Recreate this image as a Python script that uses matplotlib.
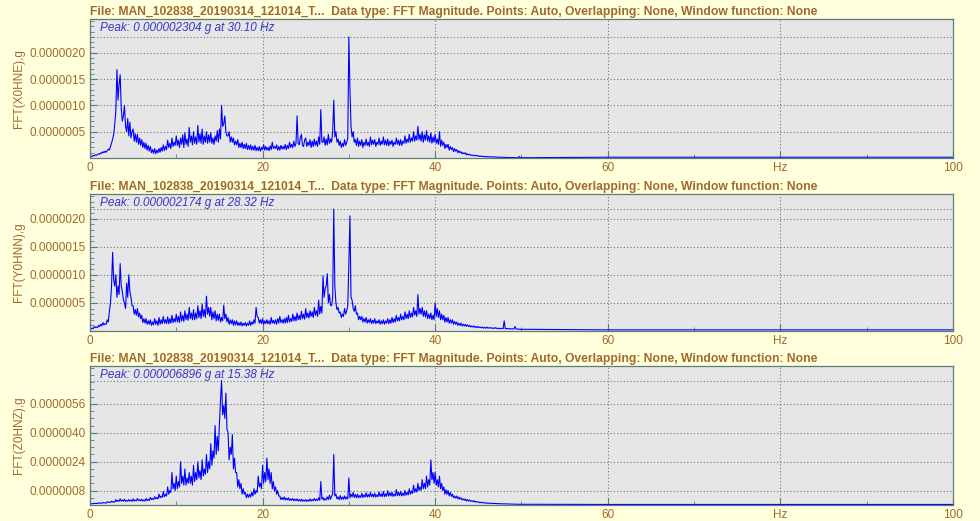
import numpy as np
import matplotlib
matplotlib.use("Agg")
import matplotlib.pyplot as plt
from matplotlib.ticker import MultipleLocator, FormatStrFormatter, FixedLocator

# Chart data (amplitudes, in units of 1e-7 g)
# one value every 0.125 Hz from 0 to 50 Hz (one row per Hz), then a flat tail
SPEC_STEP_HZ = 0.125
TAIL_HZ = [60, 70, 80, 90, 100]

x0hne = [
    0.2, 0.3, 0.3, 0.5, 0.4, 0.6, 0.5, 0.7,
    0.8, 0.7, 1.0, 0.9, 1.2, 1.0, 1.3, 1.1,
    1.4, 1.7, 1.5, 2.2, 2.8, 3.6, 4.5, 6.5,
    9.0, 16.8, 11.0, 14.0, 15.8, 9.5, 7.0, 8.0,
    10.0, 6.0, 5.0, 7.5, 4.2, 6.8, 3.8, 5.0,
    5.5, 3.2, 4.6, 3.0, 4.5, 2.6, 3.8, 2.4,
    3.5, 2.0, 3.0, 1.8, 2.8, 1.5, 2.4, 1.3,
    2.2, 1.0, 1.6, 0.9, 1.8, 0.8, 1.5, 1.0,
    1.8, 1.1, 2.0, 1.3, 2.5, 1.4, 2.2, 1.6,
    3.4, 2.0, 2.8, 1.8, 3.8, 2.2, 3.0, 2.4,
    4.2, 2.4, 3.4, 2.0, 3.8, 2.6, 4.4, 2.0,
    4.8, 2.6, 3.6, 2.2, 5.8, 3.0, 4.2, 2.5,
    5.0, 2.8, 4.0, 2.6, 6.2, 3.0, 4.6, 2.8,
    5.5, 2.6, 4.2, 3.0, 5.0, 2.8, 4.4, 3.0,
    4.8, 2.8, 3.8, 2.6, 4.2, 3.2, 5.2, 3.0,
    5.5, 3.6, 10.0, 6.0, 6.5, 8.0, 5.0, 4.2,
    4.2, 5.0, 3.0, 4.0, 3.0, 3.8, 2.5, 3.2,
    2.5, 3.5, 2.0, 2.8, 2.0, 3.0, 1.8, 2.6,
    1.8, 2.8, 1.6, 2.4, 1.6, 2.5, 1.5, 2.2,
    1.5, 2.4, 1.4, 2.0, 1.4, 2.2, 1.3, 2.0,
    1.6, 2.5, 1.5, 2.2, 1.5, 2.0, 1.4, 2.3,
    1.6, 3.0, 1.8, 2.2, 1.8, 2.5, 1.5, 2.2,
    1.5, 2.4, 1.7, 2.2, 1.7, 2.6, 1.6, 2.4,
    1.8, 3.0, 2.0, 2.6, 2.0, 3.2, 2.2, 2.8,
    8.0, 2.8, 2.5, 3.8, 4.5, 2.4, 2.2, 3.4,
    3.8, 2.2, 3.0, 2.4, 3.5, 2.0, 3.2, 2.2,
    3.6, 2.4, 3.2, 2.2, 4.0, 2.6, 9.2, 3.0,
    3.0, 4.0, 2.4, 3.6, 2.5, 4.5, 2.8, 3.6,
    3.0, 5.0, 11.0, 4.0, 5.0, 3.0, 3.6, 2.4,
    3.2, 2.0, 2.8, 2.2, 3.5, 2.4, 3.0, 3.8,
    23.0, 13.0, 6.0, 4.0, 5.0, 3.0, 3.5, 2.4,
    3.8, 2.2, 3.2, 2.4, 3.5, 2.0, 3.0, 2.4,
    3.6, 2.4, 3.0, 2.2, 4.0, 2.5, 3.4, 2.6,
    3.5, 2.2, 3.0, 2.6, 3.8, 2.4, 3.2, 2.6,
    4.0, 2.5, 3.4, 2.4, 3.6, 2.3, 3.2, 2.6,
    3.4, 2.2, 3.0, 2.6, 3.8, 2.6, 3.4, 2.4,
    3.5, 2.4, 3.2, 2.8, 4.2, 2.8, 3.6, 3.0,
    4.5, 3.0, 3.8, 3.2, 5.0, 3.2, 4.2, 3.4,
    6.0, 3.5, 4.5, 3.2, 5.0, 3.0, 4.4, 3.4,
    5.2, 3.2, 4.2, 3.0, 4.8, 2.8, 4.0, 3.0,
    4.5, 2.8, 3.6, 2.6, 5.0, 2.2, 3.4, 2.4,
    3.0, 1.8, 2.6, 2.0, 2.6, 1.5, 2.2, 1.6,
    2.0, 1.2, 1.8, 1.3, 1.6, 1.0, 1.4, 1.0,
    1.2, 0.8, 1.0, 0.8, 1.0, 0.6, 0.8, 0.6,
    0.7, 0.5, 0.6, 0.45, 0.55, 0.4, 0.5, 0.4,
    0.45, 0.3, 0.4, 0.3, 0.35, 0.25, 0.3, 0.22,
    0.3, 0.2, 0.25, 0.2, 0.25, 0.18, 0.22, 0.16,
    0.2, 0.15, 0.18, 0.14, 0.15, 0.12, 0.14, 0.12,
    0.12, 0.1, 0.11, 0.1, 0.1, 0.08, 0.1, 0.08,
    0.08, 0.07, 0.08, 0.06, 0.07, 0.06, 0.3, 0.06,
    0.06,
]
x0hne_tail = [0.15, 0.15, 0.15, 0.15, 0.15]

y0hnn = [
    0.3, 0.4, 0.5, 0.4, 0.8, 0.6, 0.7, 0.6,
    1.0, 0.8, 1.2, 0.9, 1.5, 1.1, 1.3, 1.2,
    2.0, 1.6, 3.5, 5.0, 8.0, 14.0, 9.0, 8.0,
    10.0, 6.0, 8.0, 6.5, 12.0, 8.0, 7.0, 5.5,
    5.0, 4.0, 8.5, 6.0, 10.0, 7.0, 6.0, 4.5,
    4.5, 3.0, 3.8, 2.8, 4.0, 2.5, 3.2, 2.2,
    2.8, 1.5, 2.2, 1.4, 2.2, 1.2, 1.8, 1.2,
    2.0, 1.0, 1.6, 1.1, 2.2, 1.2, 1.8, 1.0,
    2.4, 1.2, 2.0, 1.3, 2.6, 1.4, 2.0, 1.3,
    2.5, 1.3, 2.2, 1.4, 2.8, 1.5, 2.2, 1.6,
    3.0, 1.6, 2.6, 1.5, 3.4, 1.8, 2.8, 1.7,
    3.6, 2.0, 3.0, 1.9, 4.2, 2.2, 3.2, 2.0,
    3.8, 2.0, 3.2, 2.2, 4.5, 2.4, 3.6, 2.2,
    4.8, 2.6, 3.8, 2.4, 6.2, 3.0, 4.2, 2.6,
    4.2, 2.0, 3.4, 2.2, 3.6, 1.8, 3.0, 1.9,
    3.0, 1.6, 2.4, 1.8, 4.6, 2.2, 3.0, 1.6,
    2.4, 1.2, 2.0, 1.3, 2.0, 1.0, 1.8, 1.1,
    1.8, 1.0, 1.5, 1.0, 1.6, 0.9, 1.4, 1.0,
    1.5, 0.9, 1.4, 1.0, 1.8, 1.0, 1.6, 1.2,
    2.0, 1.4, 4.2, 2.6, 2.4, 1.4, 2.0, 1.3,
    2.2, 1.2, 1.8, 1.3, 2.0, 1.3, 1.8, 1.2,
    2.4, 1.4, 1.9, 1.3, 2.0, 1.2, 2.2, 1.4,
    2.6, 1.5, 2.0, 1.4, 2.2, 1.4, 2.4, 1.5,
    2.8, 1.6, 2.2, 1.7, 3.0, 1.8, 2.6, 1.8,
    3.2, 2.0, 2.8, 2.0, 3.5, 2.2, 3.0, 2.1,
    4.0, 2.4, 3.2, 2.3, 3.6, 2.6, 3.4, 2.4,
    4.2, 2.8, 3.6, 2.6, 5.5, 3.0, 4.4, 3.2,
    9.8, 6.0, 7.5, 8.0, 10.2, 5.0, 6.5, 4.6,
    4.5, 6.0, 21.7, 8.0, 5.0, 3.8, 4.2, 3.2,
    3.4, 2.4, 3.0, 2.6, 4.0, 3.0, 3.6, 4.5,
    12.0, 20.5, 6.0, 5.5, 4.0, 3.5, 4.5, 3.0,
    3.2, 2.0, 2.6, 2.0, 2.6, 1.6, 2.2, 1.6,
    2.4, 1.4, 2.0, 1.5, 2.2, 1.3, 1.9, 1.4,
    2.2, 1.3, 1.8, 1.4, 2.0, 1.2, 1.8, 1.3,
    2.0, 1.2, 1.8, 1.4, 2.2, 1.3, 2.0, 1.4,
    2.4, 1.5, 2.2, 1.6, 2.8, 1.8, 2.4, 1.8,
    3.0, 2.0, 2.6, 2.0, 3.4, 2.2, 3.0, 2.2,
    3.6, 2.4, 3.2, 2.5, 4.2, 2.8, 3.6, 2.6,
    6.5, 3.0, 4.0, 3.0, 4.2, 2.6, 3.6, 2.5,
    3.6, 2.2, 3.0, 2.2, 3.2, 2.0, 2.8, 2.0,
    5.0, 2.6, 4.0, 2.4, 3.6, 2.0, 3.0, 2.0,
    2.8, 1.6, 2.4, 1.6, 2.4, 1.4, 2.0, 1.4,
    2.0, 1.2, 1.7, 1.2, 1.6, 1.0, 1.4, 1.0,
    1.4, 0.9, 1.2, 0.9, 1.2, 0.8, 1.1, 0.8,
    1.0, 0.7, 0.9, 0.7, 0.9, 0.6, 0.8, 0.6,
    0.8, 0.6, 0.7, 0.55, 0.7, 0.5, 0.65, 0.5,
    0.7, 0.5, 0.6, 0.5, 0.6, 0.45, 0.55, 0.45,
    0.6, 0.45, 0.5, 0.4, 0.5, 0.4, 0.5, 0.4,
    1.8, 0.4, 0.45, 0.4, 0.45, 0.35, 0.4, 0.35,
    0.4, 0.35, 0.8, 0.35, 0.35, 0.3, 0.35, 0.3,
    0.3,
]
y0hnn_tail = [0.2, 0.2, 0.2, 0.2, 0.2]

z0hnz = [
    0.5, 0.6, 0.8, 0.7, 1.0, 0.8, 0.9, 0.8,
    1.2, 1.0, 1.1, 1.0, 1.4, 1.1, 1.2, 1.1,
    1.8, 1.4, 1.6, 1.4, 2.2, 1.6, 1.9, 1.6,
    3.0, 2.0, 2.6, 2.0, 3.4, 2.2, 2.8, 2.1,
    3.2, 2.0, 2.6, 2.1, 3.0, 2.2, 2.8, 2.0,
    3.4, 2.2, 2.8, 2.3, 3.6, 2.4, 3.0, 2.3,
    3.2, 2.2, 2.8, 2.2, 3.6, 2.4, 3.2, 2.5,
    4.2, 3.0, 3.6, 3.0, 4.6, 3.4, 4.2, 3.4,
    6.0, 4.0, 5.0, 4.2, 7.5, 4.5, 6.0, 5.0,
    10.0, 6.0, 8.0, 7.0, 18.0, 9.0, 12.0, 8.0,
    16.0, 9.0, 13.0, 10.0, 24.0, 12.0, 16.0, 11.0,
    20.0, 11.0, 15.0, 12.0, 18.0, 12.0, 16.0, 11.0,
    22.0, 13.0, 18.0, 14.0, 24.0, 15.0, 19.0, 14.0,
    25.0, 16.0, 20.0, 17.0, 28.0, 18.0, 24.0, 20.0,
    34.0, 22.0, 30.0, 26.0, 44.0, 28.0, 38.0, 30.0,
    45.0, 58.0, 69.0, 50.0, 55.0, 48.0, 62.0, 42.0,
    40.0, 25.0, 32.0, 28.0, 39.0, 20.0, 26.0, 18.0,
    18.0, 10.0, 14.0, 9.0, 12.0, 6.0, 9.0, 6.0,
    7.0, 4.0, 6.0, 4.2, 6.0, 4.5, 7.0, 5.0,
    9.0, 6.0, 8.0, 7.0, 16.0, 10.0, 12.0, 9.0,
    22.0, 12.0, 18.0, 13.0, 26.0, 14.0, 20.0, 12.0,
    18.0, 9.0, 13.0, 8.0, 10.0, 6.0, 8.0, 5.0,
    5.0, 3.0, 4.2, 3.0, 4.5, 2.8, 3.8, 2.8,
    4.0, 2.5, 3.4, 2.6, 3.6, 2.4, 3.2, 2.4,
    3.4, 2.2, 3.0, 2.2, 3.2, 2.0, 2.8, 2.1,
    3.0, 2.0, 2.8, 2.1, 3.4, 2.2, 3.0, 2.3,
    3.6, 2.4, 3.2, 2.5, 4.0, 2.6, 13.0, 3.2,
    4.2, 2.6, 3.6, 2.8, 4.5, 3.0, 5.5, 3.2,
    5.0, 6.0, 28.0, 5.0, 6.0, 3.4, 4.5, 3.0,
    5.2, 3.0, 4.4, 3.2, 5.0, 3.2, 4.4, 3.4,
    15.0, 4.0, 6.0, 4.5, 7.0, 4.2, 5.8, 4.0,
    6.0, 4.0, 5.2, 4.2, 6.5, 4.2, 5.6, 4.4,
    6.8, 4.4, 5.8, 4.5, 7.0, 4.6, 6.0, 4.4,
    6.5, 4.4, 5.6, 4.6, 7.2, 4.8, 6.2, 4.6,
    7.5, 4.6, 6.2, 4.8, 8.0, 5.0, 6.8, 5.0,
    7.0, 4.8, 6.0, 5.0, 8.5, 5.2, 7.0, 5.2,
    7.5, 5.0, 6.6, 5.2, 8.0, 5.4, 7.0, 5.6,
    9.0, 6.0, 7.8, 6.4, 11.0, 7.0, 9.0, 7.2,
    12.0, 8.0, 10.0, 8.2, 14.0, 9.0, 12.0, 9.0,
    16.0, 10.0, 14.0, 11.0, 25.0, 14.0, 18.0, 12.0,
    18.0, 11.0, 14.0, 10.0, 16.0, 9.0, 12.0, 8.0,
    10.0, 6.0, 8.5, 6.0, 8.0, 5.0, 7.0, 4.8,
    6.0, 4.0, 5.0, 3.8, 5.0, 3.4, 4.4, 3.2,
    4.0, 2.8, 3.4, 2.6, 3.4, 2.2, 3.0, 2.2,
    2.8, 2.0, 2.4, 1.9, 2.4, 1.6, 2.0, 1.6,
    1.8, 1.3, 1.6, 1.2, 1.5, 1.1, 1.3, 1.0,
    1.2, 0.9, 1.1, 0.9, 1.0, 0.8, 0.9, 0.8,
    0.9, 0.7, 0.8, 0.7, 0.8, 0.6, 0.7, 0.6,
    0.7, 0.6, 0.65, 0.55, 0.6, 0.5, 0.55, 0.5,
    0.5, 0.45, 0.5, 0.42, 0.45, 0.4, 0.42, 0.4,
    0.4,
]
z0hnz_tail = [0.3, 0.3, 0.3, 0.3, 0.3]

CHANNELS = ["X0HNE", "Y0HNN", "Z0HNZ"]
PEAK_G = [0.000002304, 0.000002174, 0.000006896]
PEAK_HZ = [30.10, 28.32, 15.38]
X_TICKS = [0, 20, 40, 60, 80, 100]
X_TICK_LABELS = ["0", "20", "40", "60", "Hz", "100"]
Y_TICKS = [
    [0.0000005, 0.0000010, 0.0000015, 0.0000020],
    [0.0000005, 0.0000010, 0.0000015, 0.0000020],
    [0.0000008, 0.0000024, 0.0000040, 0.0000056],
]

TITLE = ("File: MAN_102838_20190314_121014_T...  Data type: FFT Magnitude. "
         "Points: Auto, Overlapping: None, Window function: None")

# look
BG = "#FFFFDC"
PANEL = "#E6E6E6"
BROWN = "#A0692E"
EDGE = "#5E7B7B"
plt.rcParams['font.family'] = ['Liberation Sans', 'DejaVu Sans']


def spectrum(values, tail):
    hz = np.arange(len(values)) * SPEC_STEP_HZ
    hz = np.concatenate([hz, TAIL_HZ])
    g = np.array(list(values) + list(tail)) * 1e-7
    return hz, g


def draw_panel(ax, hz, g, name, peak_g, peak_hz, yticks, ymax, minor):
    ax.set_facecolor(PANEL)
    ax.plot(hz, g, color="#0000FF", lw=0.8)
    ax.set_xlim(0, 100)
    ax.set_ylim(0, ymax)

    ax.xaxis.set_major_locator(FixedLocator(X_TICKS))
    ax.set_xticklabels(X_TICK_LABELS)
    ax.xaxis.set_minor_locator(MultipleLocator(10))
    ax.yaxis.set_major_locator(FixedLocator(yticks))
    ax.yaxis.set_minor_locator(MultipleLocator(minor))
    ax.yaxis.set_major_formatter(FormatStrFormatter('%.7f'))

    ax.tick_params(which='both', direction='in', colors=EDGE, labelcolor=BROWN,
                   labelsize=8.5, pad=3)
    ax.tick_params(which='major', length=5)
    ax.tick_params(which='minor', length=3)
    for s in ax.spines.values():
        s.set_color(EDGE)
        s.set_linewidth(0.9)

    # dotted grid on major ticks (not on the frame) plus the peak level
    for v in X_TICKS[1:-1]:
        ax.axvline(v, color=EDGE, ls=(0, (1, 2)), lw=0.8, zorder=0)
    for v in yticks:
        ax.axhline(v, color=EDGE, ls=(0, (1, 2)), lw=0.8, zorder=0)
    ax.axhline(peak_g, color=EDGE, ls=(0, (1, 2)), lw=0.8, zorder=0)

    ax.set_title(TITLE, loc='left', fontsize=8.75, fontweight='bold',
                 color=BROWN, pad=3)
    ax.set_ylabel(f"FFT({name}),g", fontsize=8.5, color=BROWN)
    ax.yaxis.set_label_coords(-0.075, 0.5)
    ax.text(0.012, 0.975, f"Peak: {peak_g:.9f} g at {peak_hz:.2f} Hz",
            transform=ax.transAxes, ha='left', va='top', fontsize=8.5,
            style='italic', color="#3535C8")


fig = plt.figure(figsize=(9.8, 5.21), dpi=100, facecolor=BG)

# panel boxes in figure fractions
boxes = [
    [0.0918, 0.6967, 0.8806, 0.2668],
    [0.0918, 0.3647, 0.8806, 0.2630],
    [0.0918, 0.0307, 0.8806, 0.2668],
]
ymaxes = [0.00000264, 0.00000244, 0.0000077]
minors = [0.0000001, 0.0000001, 0.0000004]
series = [(x0hne, x0hne_tail), (y0hnn, y0hnn_tail), (z0hnz, z0hnz_tail)]

for i in range(3):
    ax = fig.add_axes(boxes[i])
    hz, g = spectrum(*series[i])
    draw_panel(ax, hz, g, CHANNELS[i], PEAK_G[i], PEAK_HZ[i], Y_TICKS[i],
               ymaxes[i], minors[i])

fig.savefig("out.png", dpi=100, facecolor=BG)
